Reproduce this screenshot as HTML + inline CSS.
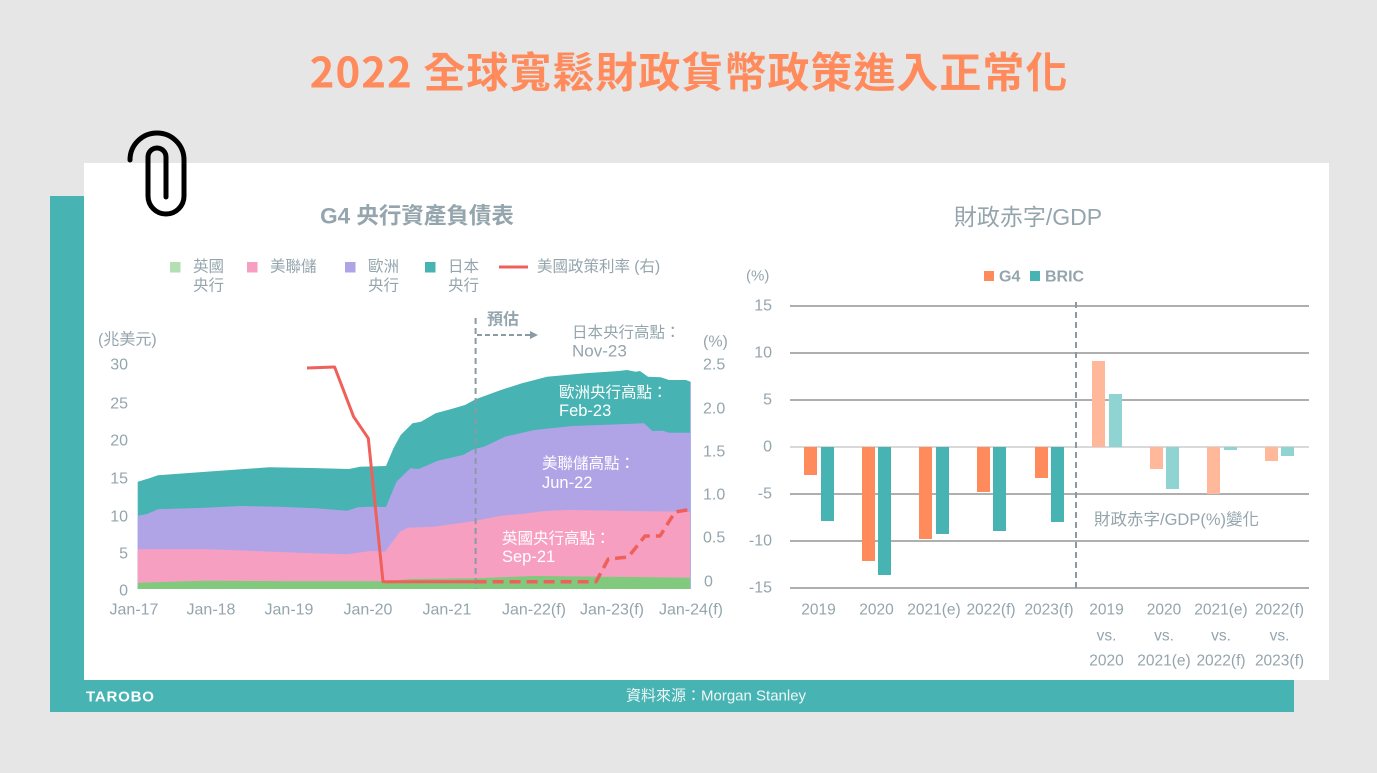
<!DOCTYPE html>
<html>
<head>
<meta charset="utf-8">
<style>
  html,body{margin:0;padding:0;background:#e6e6e6;}
  svg{display:block;}
</style>
</head>
<body>
<svg width="1377" height="773" viewBox="0 0 1377 773" xmlns="http://www.w3.org/2000/svg" font-family="'Liberation Sans','Noto Sans CJK TC',sans-serif">
  <rect x="0" y="0" width="1377" height="773" fill="#e6e6e6"/>

  <!-- Main title -->
  <text x="689" y="70" text-anchor="middle" dominant-baseline="central" font-size="42" font-weight="bold" letter-spacing="1" fill="#ff8a5b" font-family="'Noto Sans CJK TC','Liberation Sans',sans-serif">2022 全球寬鬆財政貨幣政策進入正常化</text>

  <!-- teal backing + white card -->
  <rect x="50" y="196" width="1244" height="516" fill="#47b3b3"/>
  <rect x="84" y="163" width="1245" height="517" fill="#ffffff"/>

  <!-- paperclip -->
  <path d="M130,160 A27,27 0 0 1 184,160 L184,196 A18,18 0 0 1 148,196 L148,157 A9,9 0 0 1 166,157 L166,197" fill="none" stroke="#000" stroke-width="5" stroke-linecap="round" stroke-linejoin="round"/>

  <!-- ===== LEFT CHART ===== -->
  <text x="417" y="216" text-anchor="middle" dominant-baseline="central" font-size="22.5" font-weight="bold" fill="#95a5ad">G4 央行資產負債表</text>

  <!-- legend -->
  <g font-size="15.5" fill="#95a5ad">
    <rect x="170" y="262" width="10.5" height="10.5" fill="#b3dfb3"/>
    <text x="193" y="267" dominant-baseline="central">英國</text>
    <text x="193" y="286" dominant-baseline="central">央行</text>
    <rect x="247" y="262" width="10.5" height="10.5" fill="#f79fc1"/>
    <text x="270" y="267" dominant-baseline="central">美聯儲</text>
    <rect x="345" y="262" width="10.5" height="10.5" fill="#b1a4e6"/>
    <text x="368" y="267" dominant-baseline="central">歐洲</text>
    <text x="368" y="286" dominant-baseline="central">央行</text>
    <rect x="425" y="262" width="10.5" height="10.5" fill="#47b3b3"/>
    <text x="448" y="267" dominant-baseline="central">日本</text>
    <text x="448" y="286" dominant-baseline="central">央行</text>
    <line x1="499" y1="267" x2="528" y2="267" stroke="#f0605a" stroke-width="3"/>
    <text x="537" y="267" dominant-baseline="central">美國政策利率 (右)</text>
  </g>

  <!-- axis unit labels -->
  <g font-size="16" fill="#95a5ad">
    <text x="98" y="340" dominant-baseline="central">(兆美元)</text>
    <text x="703" y="342" dominant-baseline="central">(%)</text>
  </g>

  <!-- areas -->
  <polygon fill="#47b3b3" points="137.7,481.7 149.4,478.3 157.9,475.3 206,471.7 269,467.3 311.5,468 349,469 360,466.7 386,466 393.5,448.3 400.7,435 412.5,423.3 421,421.7 435.6,413.3 450.4,409.3 465,405 475.6,399.3 500.9,390 522,383.3 547,376.7 585,373.3 618.7,371 627,370 635.6,371.7 640,371 648,376.7 660.8,377.3 669,380 686,380 690.5,381.7 690.5,589 137.7,589"/>
  <polygon fill="#b1a4e6" points="137.7,515.7 147.3,514 157.9,509.3 206,507.7 240,506 277.8,506.7 315.7,508.3 347.3,510.7 357.8,507.3 370.4,506.7 386,507 396.5,481.7 410.4,468.3 418.8,469 437.7,460.7 463,455 473.5,449.3 484,446.7 505,436.7 534.5,430 572.4,426 627,424 644,423.3 652.4,431 663,430.7 669,432.7 690.5,432.7 690.5,589 137.7,589"/>
  <polygon fill="#f79fc1" points="137.7,549.3 206,549.3 248,550.7 311.5,553.3 347.3,554.3 370.4,551 385,551.7 400,531.7 408.3,527.7 433.5,526.7 458.8,523.3 475.6,520.7 500.9,515.7 522,514 543,511.3 568,510 627,511 690.5,511.7 690.5,589 137.7,589"/>
  <polygon fill="#80c97d" points="137.7,582.7 206,580.7 290,581.3 383,581.3 412.5,579 475.6,578.3 534.5,576 606,576.7 690.5,577.7 690.5,589 137.7,589"/>
  <line x1="690.5" y1="382" x2="690.5" y2="589" stroke="#a9b4e8" stroke-width="1"/>

  <!-- forecast divider -->
  <line x1="475.6" y1="318" x2="475.6" y2="589" stroke="#8a9ba5" stroke-width="2" stroke-dasharray="6,4"/>
  <line x1="477" y1="335" x2="531" y2="335" stroke="#8a9ba5" stroke-width="2" stroke-dasharray="5,3"/>
  <polygon points="538,335 530,331 530,339" fill="#8a9ba5"/>
  <text x="487" y="320" dominant-baseline="central" font-size="16" font-weight="bold" fill="#95a5ad">預估</text>

  <!-- Japan annotation -->
  <g fill="#95a5ad">
    <text x="572" y="333" dominant-baseline="central" font-size="15.5">日本央行高點：</text>
    <text x="572" y="351" dominant-baseline="central" font-size="17">Nov-23</text>
  </g>

  <!-- white annotations -->
  <g fill="#ffffff">
    <text x="559" y="393" dominant-baseline="central" font-size="15.5">歐洲央行高點：</text>
    <text x="559" y="411" dominant-baseline="central" font-size="16.5">Feb-23</text>
    <text x="542" y="464" dominant-baseline="central" font-size="15.5">美聯儲高點：</text>
    <text x="542" y="483" dominant-baseline="central" font-size="16.5">Jun-22</text>
    <text x="502" y="539" dominant-baseline="central" font-size="15.5">英國央行高點：</text>
    <text x="502" y="557" dominant-baseline="central" font-size="16.5">Sep-21</text>
  </g>

  <!-- red policy rate -->
  <polyline fill="none" stroke="#f0605a" stroke-width="3" stroke-linejoin="round" points="307,368 334.6,367 353.6,416.7 368.3,438.3 383,581.7 475.6,581.7"/>
  <polyline fill="none" stroke="#f0605a" stroke-width="3.5" stroke-dasharray="11,6" stroke-linejoin="round" points="475.6,581.7 596,581.7 608.3,559 628.3,557 645,536 660,536 675,512 692.7,509"/>

  <!-- left axis labels -->
  <g font-size="16" fill="#95a5ad" text-anchor="end">
    <text x="128" y="365" dominant-baseline="central">30</text>
    <text x="128" y="404" dominant-baseline="central">25</text>
    <text x="128" y="441" dominant-baseline="central">20</text>
    <text x="128" y="479" dominant-baseline="central">15</text>
    <text x="128" y="517" dominant-baseline="central">10</text>
    <text x="128" y="554" dominant-baseline="central">5</text>
    <text x="128" y="591" dominant-baseline="central">0</text>
  </g>
  <g font-size="16" fill="#95a5ad">
    <text x="703" y="365" dominant-baseline="central">2.5</text>
    <text x="703" y="409" dominant-baseline="central">2.0</text>
    <text x="703" y="452" dominant-baseline="central">1.5</text>
    <text x="703" y="495" dominant-baseline="central">1.0</text>
    <text x="703" y="538" dominant-baseline="central">0.5</text>
    <text x="704" y="582" dominant-baseline="central">0</text>
  </g>
  <g font-size="16" fill="#95a5ad" text-anchor="middle">
    <text x="134" y="610" dominant-baseline="central">Jan-17</text>
    <text x="211" y="610" dominant-baseline="central">Jan-18</text>
    <text x="289" y="610" dominant-baseline="central">Jan-19</text>
    <text x="368" y="610" dominant-baseline="central">Jan-20</text>
    <text x="447" y="610" dominant-baseline="central">Jan-21</text>
    <text x="534" y="610" dominant-baseline="central">Jan-22(f)</text>
    <text x="612" y="610" dominant-baseline="central">Jan-23(f)</text>
    <text x="691" y="610" dominant-baseline="central">Jan-24(f)</text>
  </g>

  <!-- ===== RIGHT CHART ===== -->
  <text x="1028" y="217" text-anchor="middle" dominant-baseline="central" font-size="23" fill="#95a5ad">財政赤字/GDP</text>
  <text x="746" y="276" dominant-baseline="central" font-size="15" fill="#95a5ad">(%)</text>
  <rect x="984" y="271" width="10" height="10" fill="#ff8a5b"/>
  <text x="999" y="277" dominant-baseline="central" font-size="16" font-weight="bold" fill="#95a5ad">G4</text>
  <rect x="1030" y="271" width="10" height="10" fill="#47b3b3"/>
  <text x="1045" y="277" dominant-baseline="central" font-size="16" font-weight="bold" fill="#95a5ad">BRIC</text>

  <!-- gridlines -->
  <g stroke="#7f7f7f" stroke-width="1.3">
    <line x1="790" y1="306" x2="1309" y2="306"/>
    <line x1="790" y1="353" x2="1309" y2="353"/>
    <line x1="790" y1="400" x2="1309" y2="400"/>
    <line x1="790" y1="494" x2="1309" y2="494"/>
    <line x1="790" y1="541" x2="1309" y2="541"/>
    <line x1="790" y1="588" x2="1309" y2="588"/>
  </g>
  <line x1="790" y1="447" x2="1309" y2="447" stroke="#d9d9d9" stroke-width="2"/>

  <!-- bars -->
  <g fill="#ff8a5b">
    <rect x="804" y="447" width="13" height="28"/>
    <rect x="862" y="447" width="13" height="114"/>
    <rect x="919" y="447" width="13" height="92"/>
    <rect x="977" y="447" width="13" height="45"/>
    <rect x="1035" y="447" width="13" height="31"/>
  </g>
  <g fill="#47b3b3">
    <rect x="821" y="447" width="13" height="74"/>
    <rect x="878" y="447" width="13" height="128"/>
    <rect x="936" y="447" width="13" height="87"/>
    <rect x="993" y="447" width="13" height="84"/>
    <rect x="1051" y="447" width="13" height="75"/>
  </g>
  <g fill="#ffb899">
    <rect x="1092" y="361" width="13" height="86"/>
    <rect x="1150" y="447" width="13" height="22"/>
    <rect x="1207" y="447" width="13" height="47"/>
    <rect x="1265" y="447" width="13" height="14"/>
  </g>
  <g fill="#90d3d3">
    <rect x="1109" y="394" width="13" height="53"/>
    <rect x="1166" y="447" width="13" height="42"/>
    <rect x="1224" y="447" width="13" height="3"/>
    <rect x="1281" y="447" width="13" height="9"/>
  </g>

  <line x1="1076" y1="302" x2="1076" y2="588" stroke="#8a9ba5" stroke-width="2" stroke-dasharray="6,4"/>
  <text x="1094" y="520" dominant-baseline="central" font-size="16.5" fill="#95a5ad">財政赤字/GDP(%)變化</text>

  <!-- right y labels -->
  <g font-size="16" fill="#95a5ad" text-anchor="end">
    <text x="772" y="306" dominant-baseline="central">15</text>
    <text x="772" y="353" dominant-baseline="central">10</text>
    <text x="772" y="400" dominant-baseline="central">5</text>
    <text x="772" y="447" dominant-baseline="central">0</text>
    <text x="772" y="494" dominant-baseline="central">-5</text>
    <text x="772" y="541" dominant-baseline="central">-10</text>
    <text x="772" y="588" dominant-baseline="central">-15</text>
  </g>

  <!-- right x labels -->
  <g font-size="15.5" fill="#95a5ad" text-anchor="middle">
    <text x="818.5" y="610" dominant-baseline="central">2019</text>
    <text x="876.5" y="610" dominant-baseline="central">2020</text>
    <text x="934" y="610" dominant-baseline="central">2021(e)</text>
    <text x="991" y="610" dominant-baseline="central">2022(f)</text>
    <text x="1049" y="610" dominant-baseline="central">2023(f)</text>
    <text x="1106.5" y="610" dominant-baseline="central">2019</text>
    <text x="1106.5" y="636" dominant-baseline="central">vs.</text>
    <text x="1106.5" y="661" dominant-baseline="central">2020</text>
    <text x="1164" y="610" dominant-baseline="central">2020</text>
    <text x="1164" y="636" dominant-baseline="central">vs.</text>
    <text x="1164" y="661" dominant-baseline="central">2021(e)</text>
    <text x="1221" y="610" dominant-baseline="central">2021(e)</text>
    <text x="1221" y="636" dominant-baseline="central">vs.</text>
    <text x="1221" y="661" dominant-baseline="central">2022(f)</text>
    <text x="1279.5" y="610" dominant-baseline="central">2022(f)</text>
    <text x="1279.5" y="636" dominant-baseline="central">vs.</text>
    <text x="1279.5" y="661" dominant-baseline="central">2023(f)</text>
  </g>

  <!-- footer -->
  <text x="86" y="697" dominant-baseline="central" font-size="15" font-weight="bold" fill="#ffffff" letter-spacing="0.8">TAROBO</text>
  <text x="626" y="696" dominant-baseline="central" font-size="15" fill="#eef7f7">資料來源：Morgan Stanley</text>
</svg>
</body>
</html>
